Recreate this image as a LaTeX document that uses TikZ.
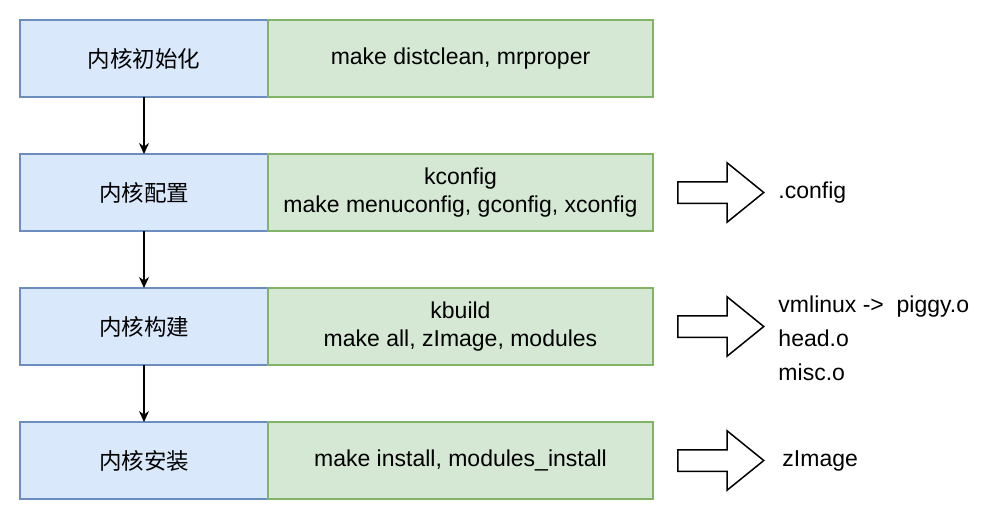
\documentclass[tikz,border=0pt]{standalone}
\usepackage{fontspec}
\setmainfont{Liberation Sans}
\newfontfamily\cjk{Noto Sans CJK SC}
\usepackage{xcolor}
\usetikzlibrary{positioning, shapes.arrows, arrows.meta}

\definecolor{stagefill}{HTML}{DAE8FC}
\definecolor{stageline}{HTML}{6C8EBF}
\definecolor{cmdfill}{HTML}{D5E8D4}
\definecolor{cmdline}{HTML}{82B366}

\begin{document}
\begin{tikzpicture}[x=1pt, y=-1pt,
    every node/.style={font=\fontsize{23}{28}\selectfont, align=center},
    stage/.style={draw=stageline, fill=stagefill, line width=1.5pt, outer sep=0pt, inner sep=0pt,
        minimum width=248pt, minimum height=77pt, font=\cjk\fontsize{22.5}{28}\selectfont},
    cmd/.style={draw=cmdline, fill=cmdfill, line width=1.5pt, outer sep=0pt, inner sep=0pt,
        minimum width=385pt, minimum height=77pt},
    output/.style={draw, line width=1.5pt, single arrow, single arrow head extend=19pt,
        single arrow tip angle=78, inner sep=10pt, minimum height=86pt},
    result/.style={align=left, anchor=west},
    flow/.style={-{Stealth[length=11pt, width=10pt]}, line width=1.2pt}]
        \useasboundingbox (0,0) rectangle (1000,520);

        % Nodes
        \node[stage] (init) at (144,58.5) {内核初始化};
        \node[cmd, right=0pt of init] (clean) {make distclean, mrproper};

        \node[stage] (conf) at (144,192.5) {内核配置};
        \node[cmd, right=0pt of conf] (kconfig) {kconfig\\make menuconfig, gconfig, xconfig};
        \node[output, right=24pt of kconfig] (toconf) {};
        \node[result, right=10pt of toconf] (dotconfig) {.config};

        \node[stage] (build) at (144,326.5) {内核构建};
        \node[cmd, right=0pt of build] (kbuild) {kbuild\\make all, zImage, modules};
        \node[output, right=24pt of kbuild] (tobuild) {};
        \node[result, font=\fontsize{23}{34}\selectfont, right=10pt of tobuild, yshift=-12pt] (objs)
            {vmlinux ->\ \ piggy.o\\head.o\\misc.o};

        \node[stage] (inst) at (144,460.5) {内核安装};
        \node[cmd, right=0pt of inst] (install) {make install, modules\_install};
        \node[output, right=24pt of install] (toinst) {};
        \node[result, right=14pt of toinst] (zimage) {zImage};

        % Arrows
        \draw[flow] (init) -- (conf);
        \draw[flow] (conf) -- (build);
        \draw[flow] (build) -- (inst);
\end{tikzpicture}
\end{document}
